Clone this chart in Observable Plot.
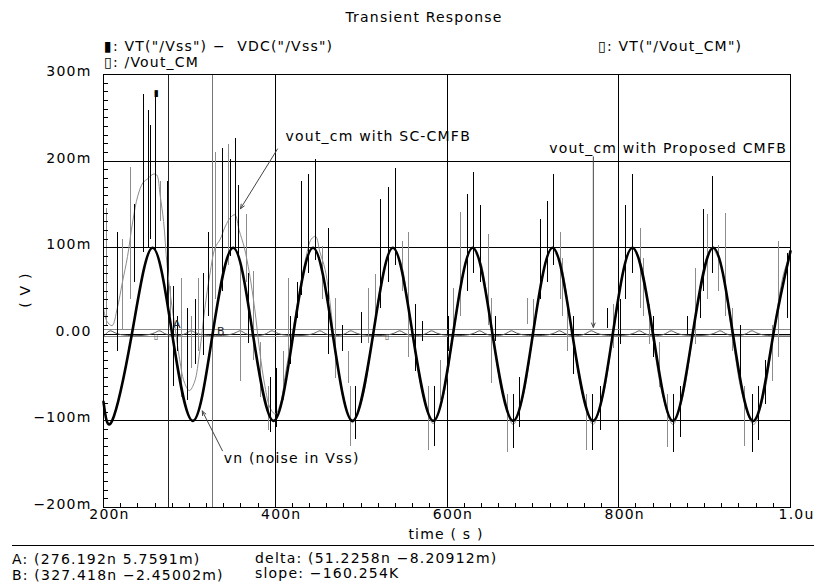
<!DOCTYPE html>
<html><head><meta charset="utf-8">
<script src="https://cdn.jsdelivr.net/npm/d3@7"></script>
<script src="https://cdn.jsdelivr.net/npm/@observablehq/plot@0.6"></script>
<style>
body{margin:0;background:#fff;}
#wrap{position:relative;width:814px;height:588px;font-family:"DejaVu Sans",sans-serif;font-size:14px;letter-spacing:1.2px;color:#000;overflow:hidden;}
#wrap svg{position:absolute;left:0;top:0;}
.t{position:absolute;white-space:pre;line-height:16px;}
.sep{position:absolute;left:12px;right:0;top:545px;border-top:1px solid #000;}
</style></head><body><div id="wrap"></div>
<script>
// ---- data (time in ns, voltage in mV) ----
const vnTime  = [200,210,233,257,280,304,327,351,374,398,421,444,467,490,514,537,560,584,607,630,653,677,700,723,746,770,793,816,840,863,886,910,933,957,980,1000];
const vnValue = [-78,-100,0,100,0,-100,0,100,0,-100,0,100,0,-100,0,100,0,-100,0,100,0,-100,0,100,0,-100,0,100,0,-100,0,100,0,-100,0,96];

const scTime  = [200,204,210,216,222,228,234,240,246,252,258,262,266,270,274,278,283,288,294,300,306,312,318,324,330,336,342,348,353,358,364,370,376,382,388,394,400,406,412,418,424,430,436,442,447,452,458,464,470,478,485,490,502,513,525,533,537,542,546,549,560,572,584,596,607,619,626,630,635,639,642,653,665,677,689,700,712,719,723,728,732,735,746,758,770,782,793,805,812,816,821,825,828,839,851,863,875,886,898,905,909,914,918,921,932,944,957,969,980,992,1000];
const scValue = [30,15,10,30,60,90,130,160,175,180,185,184,160,130,80,45,10,-25,-55,-65,-55,-20,30,70,100,110,125,135,138,120,100,70,30,-20,-60,-85,-92,-80,-45,-10,25,60,90,110,113,95,75,35,-20,-65,-93,-102,-72,-5,68,95,100,92,84,72,0,-70,-103,-70,-2,70,96,100,90,84,72,0,-70,-104,-70,-2,70,96,100,90,85,72,0,-70,-104,-70,-2,70,96,100,91,83,72,0,-70,-104,-70,-2,70,96,100,92,84,72,0,-70,-104,-70,-2,70,93];

const spikeBlackT  = [216,236,247,252,255,260,274,282,286,298,307,316,322,338,348,354,357,369,394,402,418,426,431,439,447,462,478,493,501,522,532,540,563,571,586,602,624,631,639,656,677,685,709,717,724,747,770,779,787,802,808,816,840,864,872,880,895,899,909,942,956,963,971,996];
const spikeBlackLo = [-20,60,95,100,110,95,34,-60,-20,-77,-35,-25,20,50,90,100,90,-11,-113,-108,-35,18,45,70,85,-23,-20,-121,-11,30,60,80,-43,-8,-129,-20,50,70,60,-8,-132,-108,40,60,80,-46,-134,-111,7,-12,40,70,-27,-137,-119,0,18,50,70,-57,-137,-123,-81,18];
const spikeBlackHi = [118,150,277,258,241,279,176,55,20,30,40,70,118,214,202,226,172,70,-50,-40,20,60,176,185,202,122,10,-60,25,156,170,191,34,15,-60,20,161,187,149,20,-70,-50,132,153,184,20,-70,-60,30,40,149,184,20,-70,-60,20,60,144,182,10,-70,-60,-30,93];

const spikeGrayT  = [204,222,231,266,278,291,303,311,330,345,360,366,375,383,392,410,415,455,470,485,488,509,517,548,555,578,592,607,616,648,652,670,694,701,732,734,740,763,794,825,829,836,848,857,889,903,916,924,933,947,979,986];
const spikeGrayLo = [10,5,40,130,20,-73,-40,-20,40,80,-54,60,-30,-73,-111,-77,-30,40,-51,-57,-129,-11,10,50,-27,-134,-77,0,20,10,-57,-137,11,0,40,20,-20,-134,-16,30,20,-12,-62,-131,-12,40,50,20,-20,-129,-54,-27];
const spikeGrayHi = [145,110,193,176,55,64,20,64,210,219,80,138,72,-10,-60,-20,64,101,41,-20,-60,53,69,107,118,-60,-30,53,141,115,41,-70,41,40,118,87,40,-70,34,122,87,34,-10,-70,76,138,103,139,30,-60,10,107];

const propTime  = [200,201,208,215,258,265,272,295,302,309,352,359,366,389,396,403,445,452,459,481,488,495,538,545,552,575,582,589,631,638,645,668,675,682,724,731,738,761,768,775,817,824,831,854,861,868,911,918,925,948,955,962,1000];
const propValue = [-2,-2,7,-2,-2,7,-2,-2,7,-2,-2,7,-2,-2,7,-2,-2,7,-2,-2,7,-2,-2,7,-2,-2,7,-2,-2,7,-2,-2,7,-2,-2,7,-2,-2,7,-2,-2,7,-2,-2,7,-2,-2,7,-2,-2,7,-2,-2];

const cursorName  = ["A","B"];
const cursorTime  = [276.192, 327.418];
const cursorValue = [5.7591, -2.45002];

const yTickValues = [300,200,100,0,-100,-200];
const yTickLabels = ["300m","200m","100m","0.00","\u2212100m","\u2212200m"];
const xTickValues = [200,400,600,800,1000];
const xTickLabels = ["200n","400n","600n","800n","1.0u"];
const yGrid = [-100,0,100,200];
const xGrid = [400,600,800];

const noteText = ["vout_cm with SC-CMFB","vout_cm with Proposed CMFB","vn (noise in Vss)"];
const noteTime = [412, 719, 340];
const noteValue = [228, 214, -144];
const arrowFromT = [402.6, 770.4, 338.5];
const arrowFromV = [214, 205, -134.5];
const arrowToT   = [359.5, 770.4, 315];
const arrowToV   = [145, 8, -88.5];

// ---- layout ----
const W = 814, H = 588, ML = 103, MR = 24, MT = 74, MB = 81;
const xDom = [200, 1000], yDom = [-200, 300];
const nsPerPx = (xDom[1] - xDom[0]) / (W - ML - MR);
const mvPerPx = (yDom[1] - yDom[0]) / (H - MT - MB);

// ---- build tables ----
const zip = (a, b) => a.map((x, i) => ({t: x, v: b[i]}));
const vn = zip(vnTime, vnValue);
const sc = zip(scTime, scValue);
const prop = zip(propTime, propValue);
const spB = spikeBlackT.map((t, i) => ({t, lo: spikeBlackLo[i], hi: spikeBlackHi[i]}));
const spG = spikeGrayT.map((t, i) => ({t, lo: spikeGrayLo[i], hi: spikeGrayHi[i]}));
const cursors = cursorName.map((n, i) => ({n, t: cursorTime[i], v: cursorValue[i]}));
const notes = noteText.map((s, i) => ({s, t: noteTime[i], v: noteValue[i]}));
const arrows = arrowFromT.map((t, i) => ({x1: t, y1: arrowFromV[i], x2: arrowToT[i], y2: arrowToV[i]}));
const yMinor = d3.range(-190, 300, 10);
const xMinor = d3.range(220, 1000, 20);

const chart = Plot.plot({
  width: W, height: H,
  marginLeft: ML, marginRight: MR, marginTop: MT, marginBottom: MB,
  x: {domain: xDom, axis: null},
  y: {domain: yDom, axis: null},
  style: {fontFamily: '"DejaVu Sans", sans-serif', fontSize: "14px", letterSpacing: "1.2px", background: "transparent", color: "#000", overflow: "visible"},
  marks: [
    Plot.ruleY(yGrid, {stroke: "#000", strokeWidth: 1, shapeRendering: "crispEdges"}),
    Plot.ruleX(xGrid, {stroke: "#000", strokeWidth: 1, shapeRendering: "crispEdges"}),
    Plot.ruleY(cursors, {y: "v", stroke: "#8a8a8a", strokeWidth: 1, shapeRendering: "crispEdges"}),
    Plot.ruleX(cursors, {x: "t", stroke: (d) => d.n, strokeWidth: 1, shapeRendering: "crispEdges"}),
    Plot.line(prop, {x: "t", y: "v", stroke: "#555", strokeWidth: 1, curve: "basis"}),
    Plot.line(sc, {x: "t", y: "v", stroke: "#8c8c8c", strokeWidth: 1, curve: "catmull-rom"}),
    Plot.ruleX(spG, {x: "t", y1: "lo", y2: "hi", stroke: "#8c8c8c", strokeWidth: 1, shapeRendering: "crispEdges"}),
    Plot.line(vn, {x: "t", y: "v", stroke: "#000", strokeWidth: 2.6, curve: "natural"}),
    Plot.ruleX(spB, {x: "t", y1: "lo", y2: "hi", stroke: "#000", strokeWidth: 1, shapeRendering: "crispEdges"}),
    Plot.frame({stroke: "#000", strokeWidth: 1, shapeRendering: "crispEdges"}),
    Plot.ruleY(yMinor, {y: (d) => d, x1: () => xDom[0], x2: () => xDom[0] + 5 * nsPerPx, stroke: "#000", strokeWidth: 1, shapeRendering: "crispEdges"}),
    Plot.ruleX(xMinor, {x: (d) => d, y1: () => yDom[0], y2: () => yDom[0] + 4 * mvPerPx, stroke: "#000", strokeWidth: 1, shapeRendering: "crispEdges"}),
    Plot.text(yTickValues, {y: (d) => d, text: (d, i) => yTickLabels[i], frameAnchor: "left", textAnchor: "end", dx: -12, dy: -3, fontSize: 14}),
    Plot.text(xTickValues, {x: (d) => d, text: (d, i) => xTickLabels[i], frameAnchor: "bottom", dy: 11, dx: 6, fontSize: 14}),
    Plot.arrow(arrows, {x1: "x1", y1: "y1", x2: "x2", y2: "y2", stroke: "#444", strokeWidth: 1, headLength: 7, headAngle: 45}),
    Plot.text(notes, {x: "t", y: "v", text: "s", textAnchor: "start", fontSize: 14}),
    Plot.text(cursors, {x: "t", y: "v", text: "n", textAnchor: "start", dx: 4, dy: -5, fontSize: 11, fill: "#222"}),
    Plot.text([vn[3]], {x: () => 262, y: () => 279, text: () => "\u25AE", fontSize: 9, letterSpacing: 0}),
    Plot.text([prop[0], prop[0]], {x: (d, i) => [262, 531][i], y: (d) => d.v, text: () => "\u25AF", fontSize: 8, fill: "#444"})
  ],
  color: {domain: ["A","B"], range: ["#222","#777"]}
});

const wrap = document.getElementById("wrap");
wrap.appendChild(chart);
function addText(txt, left, top, extra) {
  const d = document.createElement("div");
  d.className = "t";
  d.textContent = txt;
  d.style.left = left + "px";
  d.style.top = top + "px";
  if (extra) Object.assign(d.style, extra);
  wrap.appendChild(d);
  return d;
}
addText("Transient Response", 424, 9, {transform: "translateX(-50%)"});
addText("\u25AE: VT(\"/Vss\") \u2212  VDC(\"/Vss\")", 104, 38);
addText("\u25AF: VT(\"/Vout_CM\")", 598, 38);
addText("\u25AF: /Vout_CM", 104, 54);
addText("( V )", 25, 290, {transform: "translate(-50%,-50%) rotate(-90deg)"});
addText("time ( s )", 446, 526, {transform: "translateX(-50%)"});
const sep = document.createElement("div"); sep.className = "sep"; wrap.appendChild(sep);
addText("A: (276.192n 5.7591m)", 12, 551);
addText("B: (327.418n \u22122.45002m)", 12, 567);
addText("delta: (51.2258n \u22128.20912m)", 255, 550);
addText("slope: \u2212160.254K", 255, 565);
</script></body></html>
